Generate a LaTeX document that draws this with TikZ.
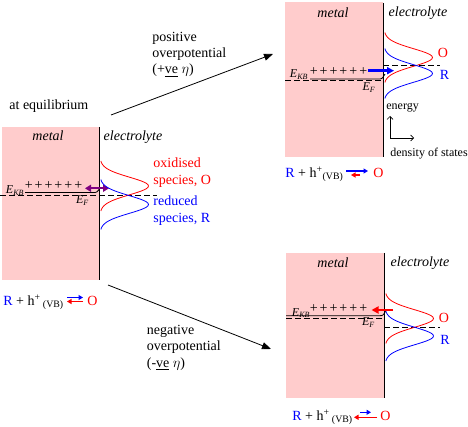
\documentclass[tikz,border=0pt]{standalone}
\usepackage{amsmath}
\usepackage{fontspec}
\setmainfont{Liberation Serif}
\newfontfamily\tnr{Liberation Serif}
\usepackage{xcolor}
\usepackage{tikz}
\usetikzlibrary{arrows.meta,calc}
\definecolor{metalpink}{RGB}{255,204,204}
\definecolor{ored}{RGB}{255,0,0}
\definecolor{rblue}{RGB}{0,0,255}
\definecolor{hole}{RGB}{128,0,128}
% density of states of a redox species: colour, interface x, centre y
\newcommand{\doscurve}[3]{\draw[#1] plot[domain=-25:25, samples=41, smooth]
  ({#2+48.5*exp(-(\x*\x)/156)}, {#3+\x});}
% the row of holes in the valence band
\newcommand{\holerow}{+\hspace{2pt}+\hspace{2pt}+\hspace{2pt}+\hspace{2pt}+\hspace{2pt}+}

\begin{document}
\begin{tikzpicture}[x=1pt, y=-1pt, line width=0.8pt,
  every node/.style={font=\tnr\fontsize{14}{16.4}\selectfont, inner sep=0pt},
  side/.style={font=\tnr\fontsize{14}{16.4}\selectfont\itshape},
  elab/.style={font=\tnr\fontsize{12}{13}\selectfont},
  holes/.style={font=\tnr\fontsize{14}{15}\selectfont},
  level/.style={dash pattern=on 6pt off 3pt},
  bigarr/.style={-{Triangle[length=9pt,width=7pt]}},
  flow/.style={line width=2.4pt, -{Triangle[length=7pt,width=7pt]}},
  eqarr/.style={line width=1.1pt, -{Triangle[length=4.5pt,width=5pt]}}]
\useasboundingbox (0,0) rectangle (468,427);
% ---- left: at equilibrium
\fill[metalpink] (2,127) rectangle (99,280);
\draw (99,127) -- (99,280);
\node[side] (metalA) at (48,136) {metal};
\node[side] (elecA) at (133,137) {electrolyte};
\draw[level] (0,195) -- (157,195);
\draw (25,192.5) -- (93,192.5) .. controls (97,192.5) .. (100,188);
\node[elab] (ekbA) at (15,190.5) {\textit{E}\textsubscript{\textit{KB}}};
\node[holes] (plusA) at (53.5,185.5) {\holerow};
\node[elab] (efA) at (82.5,200.5) {\textit{E}\textsubscript{\textit{F}}};
\draw[hole, line width=2.4pt, {Triangle[length=6pt,width=7pt]}-{Triangle[length=6pt,width=7pt]}]
  (85,188.3) -- (109,188.3);
\doscurve{ored}{100}{186}
\doscurve{rblue}{100}{204.5}
\node[ored, align=left, anchor=north west] (oxA) at (153,157.5) {oxidised\\species, O};
\node[rblue, align=left, anchor=north west] (redA) at (153,195.5) {reduced\\species, R};
\node[anchor=base west] (eqA) at (9,110) {at equilibrium};
\node[anchor=base west] (lhsA) at (3,305.5) {\textcolor{rblue}{R} + h\textsuperscript{+}\,\textsubscript{(VB)}};
\node[ored, anchor=base west] (oA) at (87,305.5) {O};
\draw[eqarr, rblue] ([xshift=-20pt,yshift=8pt]oA.base west) -- ([xshift=-4pt,yshift=8pt]oA.base west);
\draw[eqarr, ored] ([xshift=-4pt,yshift=4pt]oA.base west) -- ([xshift=-20pt,yshift=4pt]oA.base west);
% ---- links to the two overpotentials
\coordinate (upFrom) at (111,115);
\coordinate (upTo) at (273,54);
\coordinate (downFrom) at (108,285);
\coordinate (downTo) at (271,349);
\draw[bigarr] (upFrom) -- (upTo);
\draw[bigarr] (downFrom) -- (downTo);
\node[align=left, anchor=north west] (posEta) at (152,31.5)
  {positive\\overpotential\\(+\underline{ve} $\eta$)};
\node[align=left, anchor=north west] (negEta) at (146.5,324.7)
  {negative\\overpotential\\(-\underline{ve} $\eta$)};
% ---- top right: positive overpotential
\fill[metalpink] (285,2) rectangle (383,157);
\draw (383,3) -- (383,157);
\node[side] (metalB) at (333,13) {metal};
\node[side] (elecB) at (418,13) {electrolyte};
\draw[level] (383,65) -- (440,65);
\draw[level] (285,80.7) -- (383,80.7);
\draw (310,79) -- (378,79) .. controls (382,79) .. (385,74);
\node[elab] (ekbB) at (299,74.5) {\textit{E}\textsubscript{\textit{KB}}};
\node[holes] (plusB) at (338.5,72) {\holerow};
\node[elab] (efB) at (369,87.5) {\textit{E}\textsubscript{\textit{F}}};
\doscurve{ored}{384}{57.5}
\doscurve{rblue}{384}{73.5}
\draw[flow, rblue] (368,70.7) -- (394,70.7);
\node[ored] (oB) at (443,53) {O};
\node[rblue] (rB) at (444.5,75) {R};
\node[elab, anchor=base west] (energy) at (386,110) {energy};
\coordinate (axO) at (390,138);
\draw[-{Straight Barb[length=3pt,width=6pt]}, line width=0.7pt] (axO) -- (390,116);
\draw[-{Straight Barb[length=3pt,width=6pt]}, line width=0.7pt] (axO) -- (414,138);
\node[elab, anchor=base west] (dos) at (390,156.5) {density of states};
\node[anchor=base west] (lhsB) at (285,177.3) {\textcolor{rblue}{R} + h\textsuperscript{+}\textsubscript{(VB)}};
\node[ored, anchor=base west] (oBeq) at (373,177.3) {O};
\draw[eqarr, rblue] ([xshift=-27pt,yshift=6.3pt]oBeq.base west) -- ([xshift=-5pt,yshift=6.3pt]oBeq.base west);
\draw[eqarr, ored] ([xshift=-13pt,yshift=2.3pt]oBeq.base west) -- ([xshift=-22pt,yshift=2.3pt]oBeq.base west);
% ---- bottom right: negative overpotential
\fill[metalpink] (286,253) rectangle (384,398);
\draw (384,253) -- (384,398);
\node[side] (metalC) at (333,263) {metal};
\node[side] (elecC) at (420,263) {electrolyte};
\draw[level] (384,327) -- (440,327);
\draw[level] (286,318) -- (384,318);
\draw (286,315.7) -- (379,315.7) .. controls (383,315.7) .. (386,310.5);
\node[elab] (ekbC) at (301,313) {\textit{E}\textsubscript{\textit{KB}}};
\node[holes] (plusC) at (338.5,308.5) {\holerow};
\node[elab] (efC) at (368.5,322.5) {\textit{E}\textsubscript{\textit{F}}};
\doscurve{ored}{385}{318.5}
\doscurve{rblue}{385}{336}
\draw[flow, ored] (393,310) -- (371.5,310);
\node[ored] (oC) at (444,317.5) {O};
\node[rblue] (rC) at (445,339.5) {R};
\node[anchor=base west] (lhsC) at (292,420.7) {\textcolor{rblue}{R} + h\textsuperscript{+}\,\textsubscript{(VB)}};
\node[ored, anchor=base west] (oCeq) at (380,420.7) {O};
\draw[eqarr, rblue] ([xshift=-20pt,yshift=8.4pt]oCeq.base west) -- ([xshift=-9pt,yshift=8.4pt]oCeq.base west);
\draw[eqarr, ored] ([xshift=-3pt,yshift=3.4pt]oCeq.base west) -- ([xshift=-26pt,yshift=3.4pt]oCeq.base west);
\end{tikzpicture}
\end{document}
